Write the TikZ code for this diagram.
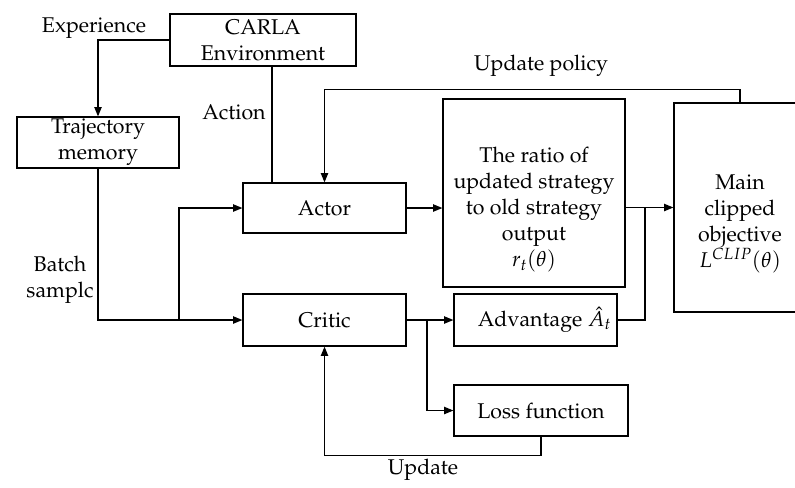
\documentclass[tikz,border=0pt]{standalone}
\usepackage{amsmath}
\usepackage{amssymb}
\usepackage[T1]{fontenc}
\usepackage{mathpazo}
\usepackage{tikz}
\usetikzlibrary{positioning,arrows.meta,calc}

\tikzset{
  blk/.style={draw, line width=0.9pt, align=center, inner sep=0pt, font=\fontsize{16}{19.5}\selectfont},
  lbl/.style={align=center, inner sep=0pt, font=\fontsize{16}{19.5}\selectfont},
  arr/.style={-{Triangle[length=7pt,width=5.5pt]}},
}

\begin{document}
\begin{tikzpicture}[x=0.75pt,y=0.75pt,yscale=-1,xscale=1,line width=0.9pt]
\useasboundingbox (0,0) rectangle (795,487);

%Shape: Rectangle [env]
\node [blk, minimum width=139.5pt, minimum height=39pt] (env) at (263,40) {CARLA\\Environment};
%Shape: Rectangle [traj]
\node [blk, minimum width=121.5pt, minimum height=38.25pt] (traj) at (98,142.5) {Trajectory\\memory};
%Shape: Rectangle [actor]
\node [blk, minimum width=122.25pt, minimum height=37.5pt] (actor) at (324.5,208) {Actor};
%Shape: Rectangle [critic]
\node [blk, minimum width=122.25pt, minimum height=39pt] (critic) at (324.5,320) {Critic};
%Shape: Rectangle [ratio]
\node [blk, minimum width=136.5pt, minimum height=141pt] (ratio) at (534,193) {};
\node [lbl] (ratiotxt) at ($(ratio.center)+(0,17)$) {The ratio of\\updated strategy\\to old strategy\\output\\$r_t(\theta)$};
%Shape: Rectangle [clip]
\node [blk, minimum width=99pt, minimum height=156.75pt] (clip) at (740,207.5) {};
\node [lbl] (cliptxt) at ($(clip.center)+(0,16)$) {Main\\clipped\\objective\\$L^{CLIP}(\theta)$};
%Shape: Rectangle [adv]
\node [blk, minimum width=122.25pt, minimum height=39pt] (adv) at (535.5,320) {};
\node [lbl] (advtxt) at ($(adv.center)+(9,0)$) {Advantage $\hat{A}_t$};
%Shape: Rectangle [loss]
\node [blk, minimum width=130.5pt, minimum height=38.25pt] (loss) at (541,410.5) {Loss function};

%Text labels
\node [lbl] (exp) at (94,28) {Experience};
\node [lbl] (act) at (234,112) {Action};
\node [lbl] (pol) at (541,66) {Update policy};
\node [lbl] (bat) at (60,280) {Batch\\samplc};
\node [lbl] (upd) at (423,470) {Update};

%Junctions
\coordinate (actx) at (272,0);
\coordinate (split) at (179,320);
\coordinate (merge) at (645,207.5);
\coordinate (fork) at (427,320);

%Straight Lines
\draw [arr] (env.west) -| (traj.north);
\draw (env.south -| actx) -- (actor.north -| actx);
\draw [arr] (traj.south) |- (critic.west);
\draw [arr] (split) |- (actor.west);
\draw [arr] (actor.east) -- (actor.east -| ratio.west);
\draw [arr] (ratio.east |- clip.west) -- (clip.west);
\draw (adv.east) -| (merge);
\draw [arr] (critic.east) -- (adv.west);
\draw [arr] (fork) |- (loss.west);
\draw [arr] (loss.south) -- ++(0,19) -| (critic.south);
\draw [arr] (clip.north) -- ++(0,-13) -| (actor.north);

\end{tikzpicture}
\end{document}
